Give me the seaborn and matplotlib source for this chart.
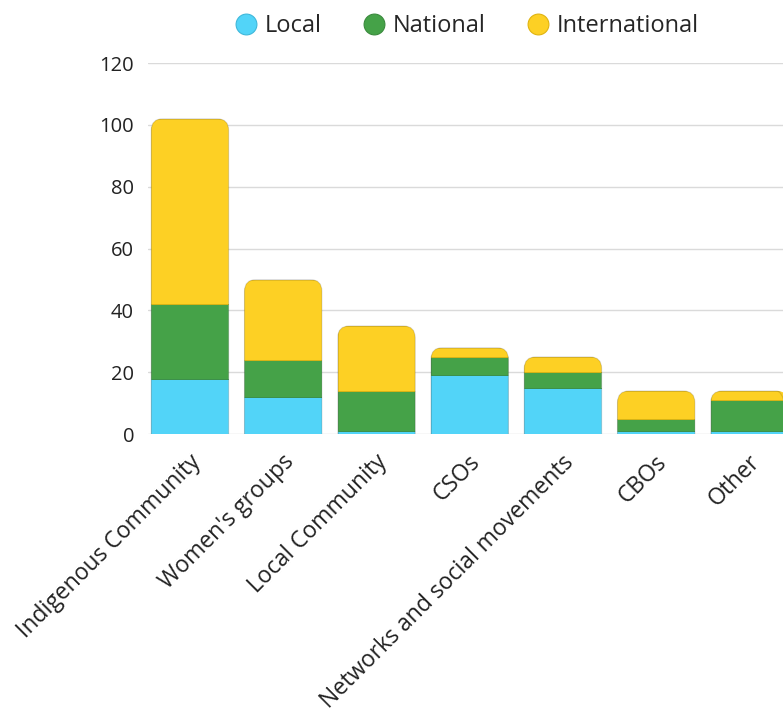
import matplotlib
matplotlib.use("Agg")
import matplotlib.pyplot as plt
from matplotlib.patches import FancyBboxPatch
from matplotlib.lines import Line2D
import matplotlib.transforms as mtransforms
import seaborn as sns
import pandas as pd

categories = ["Indigenous Community", "Women's groups", "Local Community", "CSOs",
              "Networks and social movements", "CBOs", "Other"]
local = [18, 12, 1, 19, 15, 1, 1]
national = [24, 12, 13, 6, 5, 4, 10]
international = [60, 26, 21, 3, 5, 9, 3]
series_names = ["Local", "National", "International"]
colors = ["#52D4F8", "#45A248", "#FDD024"]
edge_colors = ["#3FB8DA", "#3A8A3D", "#E0B410"]

sns.set_theme(style="white")
plt.rcParams["font.family"] = ["Open Sans", "DejaVu Sans"]

df = pd.DataFrame({"category": categories, "Local": local,
                   "National": national, "International": international})

fig = plt.figure(figsize=(7.83, 7.13), dpi=100)
ax = fig.add_axes([0.189, 0.391, 0.811, 0.5206])

bottoms = [0] * len(categories)
width = 0.83
for name, col, ec in zip(series_names, colors, edge_colors):
    sns.barplot(data=df, x="category", y=name, bottom=bottoms, color=col,
                width=width, ax=ax, edgecolor=ec, linewidth=0.6,
                saturation=1)
    bottoms = [b + v for b, v in zip(bottoms, df[name])]

ax.set_xlim(-0.45, 6.36)
ax.set_ylim(0, 120)

# rounded top corners: clip each stack with a rounded box
totals = bottoms
patches = list(ax.patches)
n = len(categories)
for i, tot in enumerate(totals):
    clip = FancyBboxPatch((i - width / 2, -10), width, tot + 10,
                          boxstyle="round,pad=0,rounding_size=0.125",
                          mutation_aspect=30, transform=ax.transData,
                          facecolor="none", edgecolor="none")
    ax.add_patch(clip)
    clip.set_visible(False)
    for k in range(3):
        patches[k * n + i].set_clip_path(clip)
    outline = FancyBboxPatch((i - width / 2, -10), width, tot + 10,
                             boxstyle="round,pad=0,rounding_size=0.125",
                             mutation_aspect=30, facecolor="none",
                             edgecolor="#00000022", linewidth=0.8, zorder=3)
    ax.add_patch(outline)

ax.set_yticks([0, 20, 40, 60, 80, 100, 120])
ax.yaxis.grid(True, color="#DADADA", linewidth=1)
ax.set_axisbelow(True)
for s in ax.spines.values():
    s.set_visible(False)
ax.set_xlabel("")
ax.set_ylabel("")
ax.tick_params(axis="y", labelsize=14.5, pad=10, colors="#222222", length=0)
ax.tick_params(axis="x", labelsize=16.5, colors="#222222", length=0, pad=12)
ax.set_xticks(range(n))
ax.set_xticklabels(categories, rotation=45, ha="right", va="center",
                   rotation_mode="anchor")
offset = mtransforms.ScaledTranslation(0.07, -0.08, fig.dpi_scale_trans)
for lbl in ax.get_xticklabels():
    lbl.set_transform(lbl.get_transform() + offset)

handles = [Line2D([0], [0], marker="o", linestyle="", markersize=15,
                  markerfacecolor=c, markeredgecolor=e, markeredgewidth=0.8)
           for c, e in zip(colors, edge_colors)]
ax.legend(handles, series_names, loc="center", bbox_to_anchor=(0.5, 1.10),
          ncol=3, frameon=False, fontsize=17, handletextpad=0.2,
          columnspacing=1.6, handlelength=1.2)

fig.savefig("out.png", dpi=100)
